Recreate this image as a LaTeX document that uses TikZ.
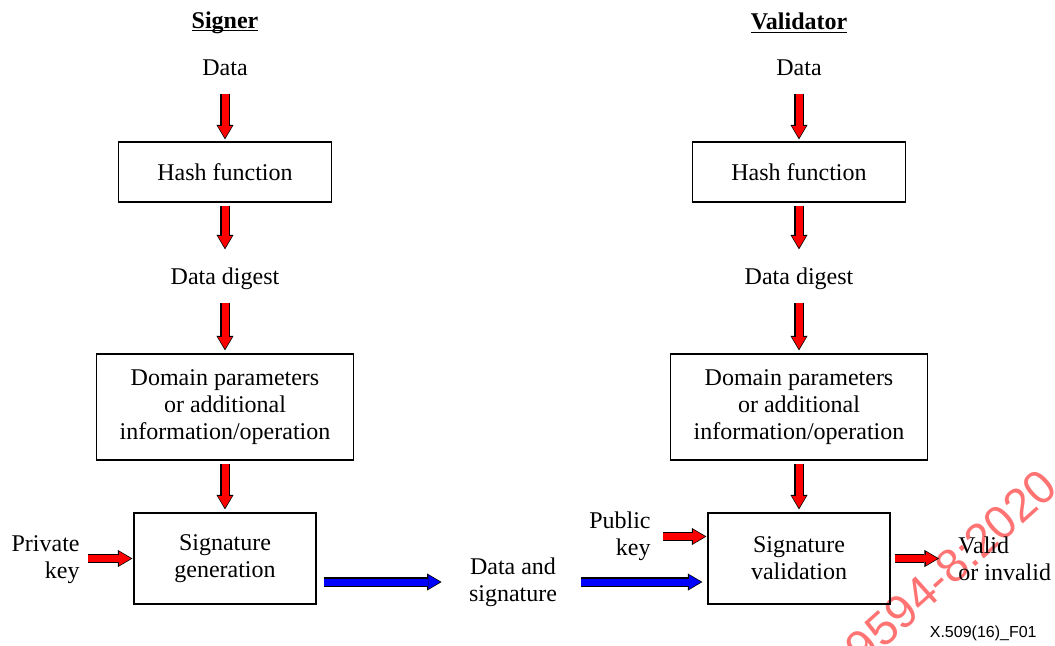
\documentclass[tikz,border=0pt]{standalone}
\usepackage{fontspec}
\setmainfont{Liberation Serif}
\setsansfont{Liberation Sans}
\usetikzlibrary{arrows.meta}
\newcommand\heading[1]{\underline{\raisebox{0pt}[\height][0pt]{\textbf{#1}}}}

\begin{document}
\begin{tikzpicture}
        [x=0.5pt, y=-0.5pt,
        txt/.style={inner sep=0pt, align=center, font=\fontsize{12}{13.5}\selectfont},
        box/.style={draw, line width=0.6pt, inner sep=0pt, align=center, font=\fontsize{12}{13.5}\selectfont},
        fat/.style={draw=#1, line width=3.5pt, -{Triangle[length=5.8pt, width=7pt, line width=0pt, sep=0.8pt]},
            preaction={draw=black, line width=4.8pt, -{Triangle[length=7.3pt, width=8.6pt, line width=0pt]}}}]
        \useasboundingbox (0,0) rectangle (1055,645);

        \node[rotate=42, text=red!55, font=\sffamily\fontsize{23.5}{23.5}\selectfont] (WM) at (951,567) {9594-8:2020};

        \node[txt, anchor=base] (S) at (225,28) {\heading{Signer}};
        \node[txt, anchor=base] (D1) at (225,75) {Data};
        \node[box, minimum width=106.5pt, minimum height=30pt] (H1) at (225,172) {Hash function};
        \node[txt, anchor=base] (G1) at (225,284) {Data digest};
        \node[box, minimum width=128.5pt, minimum height=53pt] (P1) at (225,407) {Domain parameters\\or additional\\information/operation};
        \node[box, minimum width=91pt, minimum height=45.5pt] (SG) at (225,558.5) {Signature\\generation};
        \node[txt, align=right, anchor=east] (PK) at (80,560) {Private\\key};

        \node[txt] (DS) at (513,582) {Data and\\signature};

        \node[txt, anchor=base] (V) at (799,29.5) {\heading{Validator}};
        \node[txt, anchor=base] (D2) at (799,75) {Data};
        \node[box, minimum width=106.5pt, minimum height=30pt] (H2) at (799,172) {Hash function};
        \node[txt, anchor=base] (G2) at (799,284) {Data digest};
        \node[box, minimum width=128.5pt, minimum height=53pt] (P2) at (799,407) {Domain parameters\\or additional\\information/operation};
        \node[box, minimum width=91pt, minimum height=45.5pt] (SV) at (799,558.5) {Signature\\validation};
        \node[txt, align=right, anchor=east] (PU) at (651,536.5) {Public\\key};
        \node[txt, align=left, anchor=west] (VI) at (958,559) {Valid\\or invalid};
        \node[inner sep=0pt, anchor=east, font=\sffamily\fontsize{8}{9.6}\selectfont] (F) at (1037,633) {X.509(16)\_F01};

        \draw[fat=red, shorten <=9pt, shorten >=1pt] (D1) -- (H1);
        \draw[fat=red, shorten <=1.5pt, shorten >=8.8pt] (H1) -- (G1);
        \draw[fat=red, shorten <=6.5pt, shorten >=1.5pt] (G1) -- (P1);
        \draw[fat=red, shorten <=1.5pt, shorten >=1.5pt] (P1) -- (SG);
        \draw[fat=red, shorten <=4pt, shorten >=0.5pt] (PK.east |- SG.west) -- (SG.west);
        \draw[fat=blue, shorten <=3.5pt, shorten >=13.5pt] (SG.east |- DS) -- (DS.west);

        \draw[fat=red, shorten <=9pt, shorten >=1pt] (D2) -- (H2);
        \draw[fat=red, shorten <=1.5pt, shorten >=8.8pt] (H2) -- (G2);
        \draw[fat=red, shorten <=6.5pt, shorten >=1.5pt] (G2) -- (P2);
        \draw[fat=red, shorten <=1.5pt, shorten >=1.5pt] (P2) -- (SV);
        \draw[fat=blue, shorten <=12pt, shorten >=2.5pt] (DS.east) -- (DS.east -| SV.west);
        \draw[fat=red, shorten <=6pt, shorten >=0.5pt] (PU.east) -- (PU.east -| SV.west);
        \draw[fat=red, shorten <=2pt, shorten >=9.5pt] (SV.east) -- (SV.east -| VI.west);
\end{tikzpicture}
\end{document}
